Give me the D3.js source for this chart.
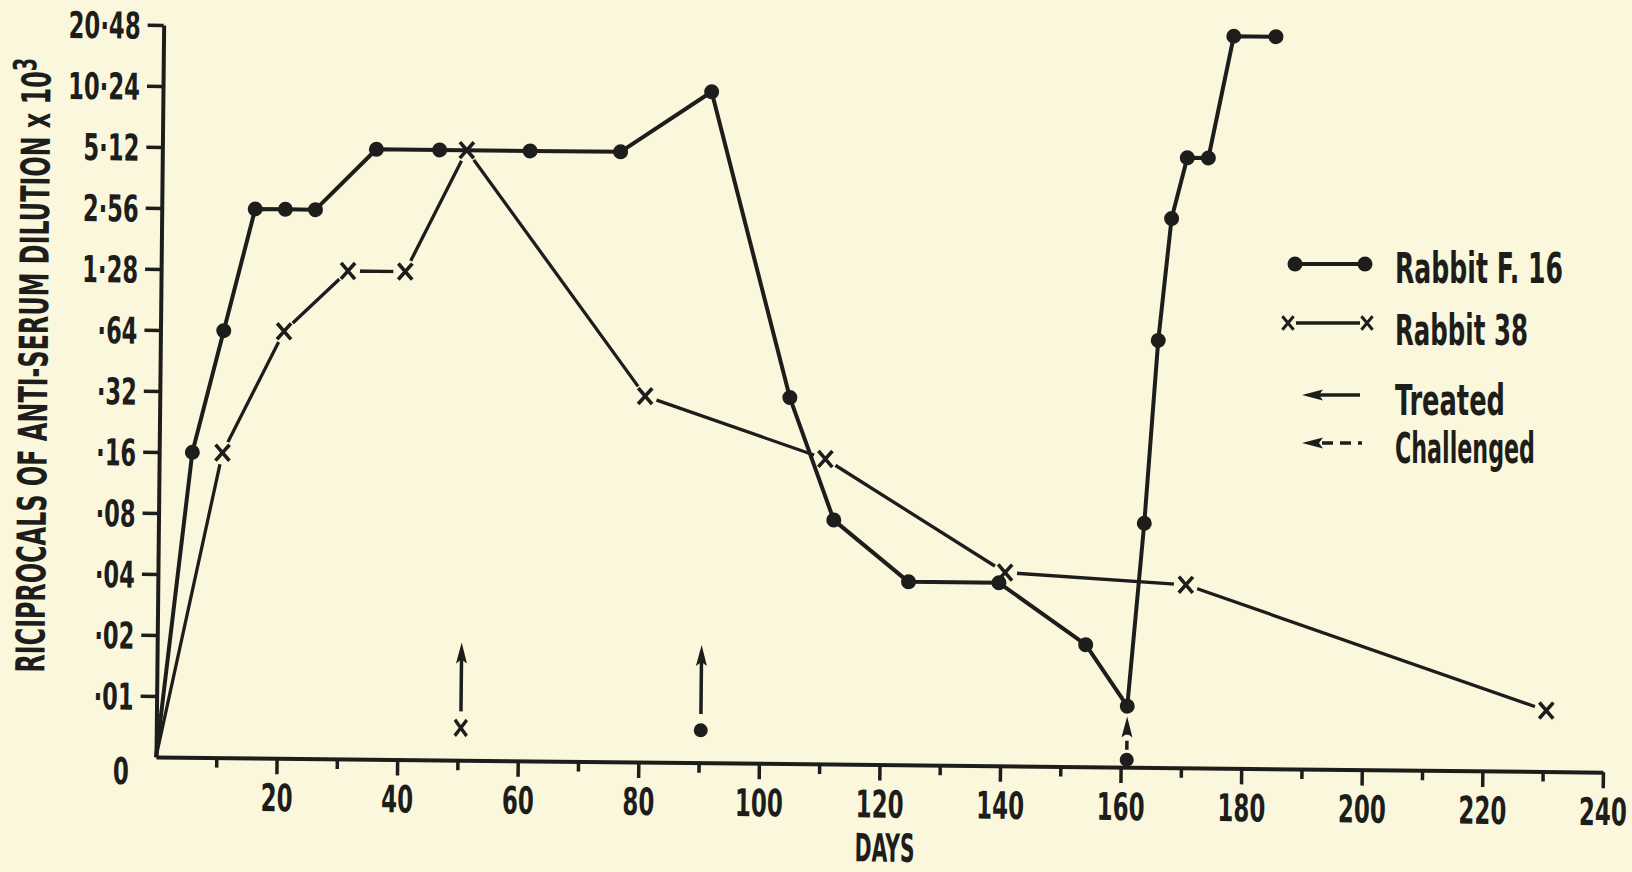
<!DOCTYPE html>
<html>
<head>
<meta charset="utf-8">
<script src="https://cdn.jsdelivr.net/npm/d3@7/dist/d3.min.js"></script>
<style>
  body { margin: 0; background: #fbf7dc; }
  svg text { font-family: "Liberation Sans Narrow", "DejaVu Sans Condensed", "Liberation Sans", sans-serif; font-weight: bold; fill: #1d1d1b; }
</style>
</head>
<body>
<div id="chart"></div>
<script>
// y axis: doubling dilution steps, evenly spaced, plus a bottom "0"
var yTickLabels = ["0", "·01", "·02", "·04", "·08", "·16", "·32", "·64", "1·28", "2·56", "5·12", "10·24", "20·48"];
var xTicksMajor = [20, 40, 60, 80, 100, 120, 140, 160, 180, 200, 220, 240];
var xTicksMinor = [10, 30, 50, 70, 90, 110, 130, 150, 170, 190, 210, 230];

// Rabbit F.16 (dots)
var f16Days  = [0, 5.5, 10.5, 15.5, 20.5, 25.5, 35.5, 46, 61, 76, 91, 104.5, 112, 124.5, 139.5, 154, 161, 163.5, 165.5, 167.5, 170, 173.5, 177.5, 184.5];
var f16Titre = [0, .16, .64, 2.56, 2.56, 2.56, 5.12, 5.12, 5.12, 5.12, 10.24, .32, .08, .04, .04, .02, .01, .08, .64, 2.56, 5.12, 5.12, 20.48, 20.48];

// Rabbit 38 (crosses)
var r38Days  = [0, 10.5, 20.5, 31, 40.5, 50.5, 80.5, 110.5, 140.5, 170.5, 230.5];
var r38Titre = [0, .16, .64, 1.28, 1.28, 5.12, .32, .16, .045, .04, .01];

// treatment / challenge markers (day, which rabbit)
var treatedDays = [50.5, 90.3];
var treatedRabbit = ["38", "F16"];
var challengedDays = [161];

var legendLabels = ["Rabbit F. 16", "Rabbit 38", "Treated", "Challenged"];

var width = 1632, height = 872;
var ink = "#1d1d1b", paper = "#fbf7dc";
var origin = {x: 156, y: 757};
var skew = 0.6; // the printed figure sits slightly rotated on the page

// the original lettering is a narrow DIN face: squeeze figures to its widths
function figureWidth(s) {
  var w = 0;
  for (var i = 0; i < s.length; i++) w += s[i] === "·" ? 8 : 16;
  return w;
}
function squeezeFactor(node, target) {
  return target / node.getComputedTextLength();
}

var svg = d3.select("#chart").append("svg")
    .attr("width", width)
    .attr("height", height)
    .style("display", "block");

svg.append("rect").attr("width", width).attr("height", height).attr("fill", paper);

var g = svg.append("g")
    .attr("transform", "translate(" + origin.x + "," + origin.y + ") rotate(" + skew + ")");

var x = d3.scaleLinear().domain([0, 240]).range([0, 1447]);
var y = d3.scaleLinear().domain([0, 12]).range([0, -732]);
var level = d3.scaleLog().base(2).domain([0.01, 20.48]).range([1, 12]);
function yPos(t) { return t > 0 ? y(level(t)) : y(0); }

//--------------------------------------------------------------------------
// axes

var yAxis = g.append("g")
    .call(d3.axisLeft(y)
      .tickValues(d3.range(1, 13))
      .tickFormat(function(i) { return yTickLabels[i]; })
      .tickSize(16).tickSizeOuter(0).tickPadding(7));
yAxis.attr("font-size", 37).attr("font-family", null);
yAxis.select(".domain").attr("stroke", ink).attr("stroke-width", 4);
yAxis.selectAll(".tick line").attr("stroke", ink).attr("stroke-width", 3.5);
yAxis.selectAll(".tick text")
    .attr("dy", "0.36em")
    .each(function(i) {
      var s = squeezeFactor(this, figureWidth(yTickLabels[i]));
      d3.select(this).attr("x", -23 / s).attr("transform", "scale(" + s + ",1)");
    });

var zeroLabel = g.append("text")
    .attr("y", 14).attr("dy", "0.36em")
    .attr("text-anchor", "end")
    .attr("font-size", 37)
    .text(yTickLabels[0]);
var zs = squeezeFactor(zeroLabel.node(), figureWidth(yTickLabels[0]));
zeroLabel.attr("x", -27 / zs).attr("transform", "scale(" + zs + ",1)");

var xMinor = g.append("g")
    .call(d3.axisBottom(x).tickValues(xTicksMinor).tickSize(10).tickSizeOuter(0).tickFormat(""));
xMinor.select(".domain").remove();
xMinor.selectAll(".tick line").attr("stroke", ink).attr("stroke-width", 3.5);

var xAxis = g.append("g")
    .call(d3.axisBottom(x).tickValues(xTicksMajor).tickSize(16).tickSizeOuter(0).tickPadding(10));
xAxis.attr("font-size", 38).attr("font-family", null);
xAxis.select(".domain").attr("stroke", ink).attr("stroke-width", 4);
xAxis.selectAll(".tick line").attr("stroke", ink).attr("stroke-width", 3.5);
xAxis.selectAll(".tick text")
    .each(function(d) {
      var s = squeezeFactor(this, figureWidth(String(d)));
      d3.select(this).attr("transform", "scale(" + s + ",1)");
    });

var daysLabel = g.append("text")
    .attr("text-anchor", "middle")
    .attr("font-size", 39)
    .text("DAYS");
daysLabel.attr("transform", "translate(" + x(121) + ",97) scale(" + squeezeFactor(daysLabel.node(), 60) + ",1)");

var yTitle = g.append("text")
    .attr("text-anchor", "middle")
    .attr("dy", "0.36em")
    .attr("font-size", 40);
yTitle.append("tspan").text("RICIPROCALS OF ANTI-SERUM DILUTION x 10");
yTitle.append("tspan").attr("dy", "-0.45em").attr("font-size", 32).text("3");
yTitle.attr("transform", "translate(-127," + y(6.4) + ") rotate(-90) scale(" +
    squeezeFactor(yTitle.node(), 615) + ",1)");

//--------------------------------------------------------------------------
// series

var f16 = f16Days.map(function(d, i) { return {day: d, titre: f16Titre[i]}; });
var r38 = r38Days.map(function(d, i) { return {day: d, titre: r38Titre[i]}; });

var line = d3.line()
    .x(function(d) { return x(d.day); })
    .y(function(d) { return yPos(d.titre); });

var crossPath = "M-7,-8L7,8M7,-8L-7,8";

g.append("path").datum(r38)
    .attr("d", line)
    .attr("fill", "none").attr("stroke", ink).attr("stroke-width", 3.3)
    .attr("stroke-linejoin", "round");

var r38Marks = r38.filter(function(d) { return d.titre > 0; });

g.selectAll(".halo").data(r38Marks).enter().append("circle")
    .attr("class", "halo")
    .attr("cx", function(d) { return x(d.day); })
    .attr("cy", function(d) { return yPos(d.titre); })
    .attr("r", 12)
    .attr("fill", paper);

g.selectAll(".cross").data(r38Marks).enter().append("path")
    .attr("class", "cross")
    .attr("transform", function(d) { return "translate(" + x(d.day) + "," + yPos(d.titre) + ")"; })
    .attr("d", crossPath)
    .attr("fill", "none").attr("stroke", ink).attr("stroke-width", 3.6);

g.append("path").datum(f16)
    .attr("d", line)
    .attr("fill", "none").attr("stroke", ink).attr("stroke-width", 4)
    .attr("stroke-linejoin", "round");

g.selectAll(".dot").data(f16.filter(function(d) { return d.titre > 0; })).enter().append("circle")
    .attr("class", "dot")
    .attr("cx", function(d) { return x(d.day); })
    .attr("cy", function(d) { return yPos(d.titre); })
    .attr("r", 7.5)
    .attr("fill", ink);

//--------------------------------------------------------------------------
// treated / challenged arrows

function arrowHead(sel, px, py, angle) {
  sel.append("path")
      .attr("transform", "translate(" + px + "," + py + ") rotate(" + angle + ")")
      .attr("d", "M0,0L5.5,21L0,17L-5.5,21Z")
      .attr("fill", ink);
}

treatedDays.forEach(function(day, i) {
  var cx = x(day);
  if (treatedRabbit[i] === "38") {
    g.append("path")
        .attr("transform", "translate(" + cx + "," + y(0.53) + ") scale(0.85,1)")
        .attr("d", crossPath)
        .attr("fill", "none").attr("stroke", ink).attr("stroke-width", 3.8);
  } else {
    g.append("circle").attr("cx", cx).attr("cy", y(0.53)).attr("r", 7).attr("fill", ink);
  }
  g.append("line")
      .attr("x1", cx).attr("x2", cx)
      .attr("y1", y(0.8)).attr("y2", y(1.93) + 12)
      .attr("stroke", ink).attr("stroke-width", 3.5);
  arrowHead(g, cx, y(1.93), 0);
});

challengedDays.forEach(function(day) {
  var cx = x(day);
  g.append("circle").attr("cx", cx).attr("cy", y(0.12)).attr("r", 7).attr("fill", ink);
  g.append("line")
      .attr("x1", cx).attr("x2", cx)
      .attr("y1", y(0.12) - 10).attr("y2", y(0.83) + 14)
      .attr("stroke", ink).attr("stroke-width", 3.5)
      .attr("stroke-dasharray", "9,6");
  arrowHead(g, cx, y(0.83), 0);
});

//--------------------------------------------------------------------------
// legend

var legend = svg.append("g");
var lx0 = 1295, lx1 = 1365, ty = 1395;

legend.append("line").attr("x1", lx0).attr("x2", lx1).attr("y1", 264).attr("y2", 264)
    .attr("stroke", ink).attr("stroke-width", 4);
[lx0, lx1].forEach(function(cx) {
  legend.append("circle").attr("cx", cx).attr("cy", 264).attr("r", 7.5).attr("fill", ink);
});

legend.append("line").attr("x1", 1296).attr("x2", 1360).attr("y1", 323).attr("y2", 323)
    .attr("stroke", ink).attr("stroke-width", 3.3);
[1288, 1367].forEach(function(cx) {
  legend.append("path")
      .attr("transform", "translate(" + cx + ",323) scale(0.8,0.85)")
      .attr("d", crossPath)
      .attr("fill", "none").attr("stroke", ink).attr("stroke-width", 3.8);
});

legend.append("line").attr("x1", 1315).attr("x2", 1360).attr("y1", 395).attr("y2", 395)
    .attr("stroke", ink).attr("stroke-width", 3.5);
arrowHead(legend, 1302, 395, -90);

legend.append("line").attr("x1", 1322).attr("x2", 1362).attr("y1", 443).attr("y2", 443)
    .attr("stroke", ink).attr("stroke-width", 3.5).attr("stroke-dasharray", "11,7");
arrowHead(legend, 1302, 443, -90);

var legendBase = [283, 345, 415, 463];
var legendWidth = [168, 133, 110, 140];
legendLabels.forEach(function(label, i) {
  var t = legend.append("text")
      .attr("font-size", 42)
      .text(label);
  t.attr("transform", "translate(" + ty + "," + legendBase[i] + ") scale(" +
      squeezeFactor(t.node(), legendWidth[i]) + ",1)");
});
</script>
</body>
</html>
